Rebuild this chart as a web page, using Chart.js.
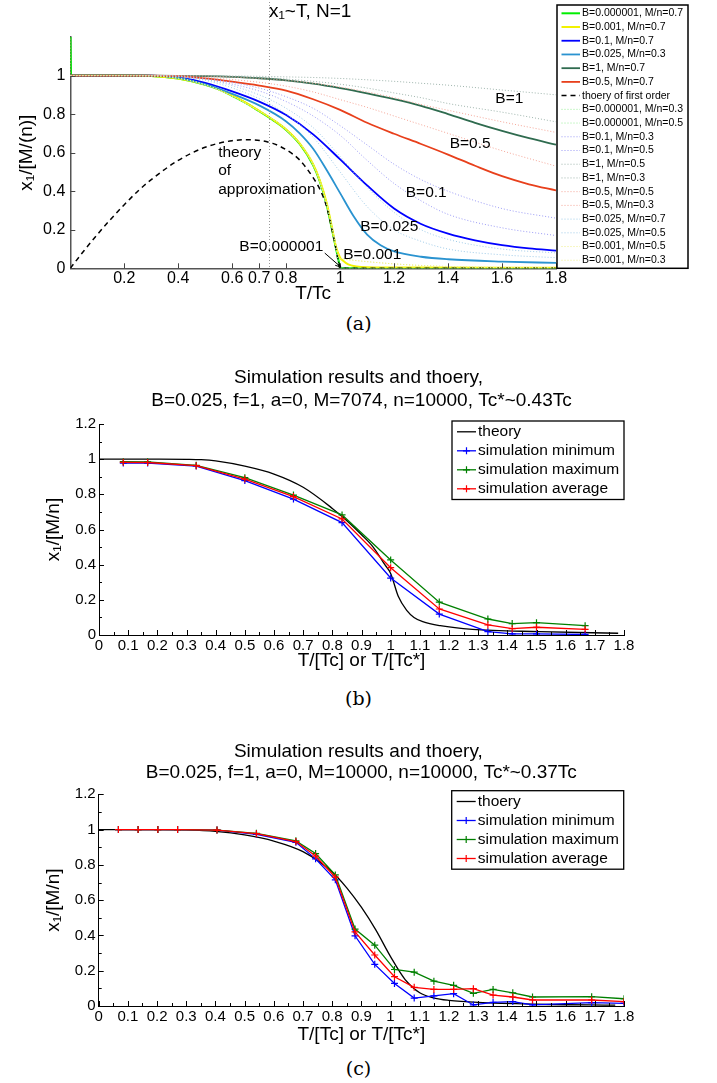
<!DOCTYPE html>
<html>
<head>
<meta charset="utf-8">
<script src="https://cdn.jsdelivr.net/npm/chart.js@4.4.0/dist/chart.umd.min.js"></script>
<style>
  body { margin: 0; background: #fff; width: 717px; height: 1083px; position: relative; overflow: hidden; }
  canvas { position: absolute; left: 0; }
  .cap { position: absolute; left: 0; width: 717px; text-align: center; font-family: "DejaVu Serif", serif; font-size: 19px; line-height: 20px; color: #000; }
</style>
</head>
<body>
<canvas id="chartA" width="717" height="310" style="top:0"></canvas>
<div class="cap" style="top:313px">(a)</div>
<canvas id="chartB" width="717" height="320" style="top:360px"></canvas>
<div class="cap" style="top:688px">(b)</div>
<canvas id="chartC" width="717" height="320" style="top:730px"></canvas>
<div class="cap" style="top:1058px">(c)</div>
<script>
const FONT = '"Liberation Sans", Arial, sans-serif';

// ---------- panel (a) data ----------
const xTicksA = [0.2, 0.4, 0.6, 0.7, 0.8, 1, 1.2, 1.4, 1.6, 1.8];
const yTicksA = [0, 0.2, 0.4, 0.6, 0.8, 1];

const greenX = [0, 0.003, 0.1, 0.2, 0.3, 0.4, 0.5, 0.55, 0.6, 0.65, 0.7, 0.75, 0.8, 0.85, 0.9, 0.925, 0.95, 0.97, 0.985, 0.995, 1.0, 1.8];
const greenY = [1.3, 1, 1, 1, 0.998, 0.984, 0.952, 0.928, 0.895, 0.858, 0.815, 0.77, 0.718, 0.645, 0.535, 0.45, 0.33, 0.2, 0.1, 0.035, 0, 0];
const yellowX = [0, 0.1, 0.2, 0.3, 0.4, 0.5, 0.55, 0.6, 0.65, 0.7, 0.75, 0.8, 0.85, 0.9, 0.925, 0.95, 0.97, 0.985, 1.0, 1.01, 1.03, 1.06, 1.1, 1.3, 1.8];
const yellowY = [1, 1, 1, 0.998, 0.984, 0.953, 0.929, 0.897, 0.86, 0.817, 0.772, 0.72, 0.648, 0.54, 0.455, 0.34, 0.21, 0.11, 0.055, 0.04, 0.02, 0.01, 0.006, 0.004, 0.003];
const blueX = [0, 0.3, 0.4, 0.5, 0.6, 0.7, 0.8, 0.9, 1.0, 1.1, 1.2, 1.3, 1.4, 1.5, 1.6, 1.7, 1.8];
const blueY = [1, 1, 0.99, 0.962, 0.918, 0.865, 0.795, 0.695, 0.565, 0.43, 0.31, 0.23, 0.18, 0.145, 0.12, 0.103, 0.092];
const cyanX = [0, 0.3, 0.4, 0.5, 0.6, 0.7, 0.8, 0.85, 0.9, 0.95, 1.0, 1.05, 1.1, 1.15, 1.2, 1.3, 1.4, 1.6, 1.8];
const cyanY = [1, 1, 0.988, 0.954, 0.905, 0.845, 0.762, 0.7, 0.62, 0.51, 0.39, 0.27, 0.175, 0.12, 0.088, 0.06, 0.047, 0.035, 0.028];
const dkGreenX = [0, 0.3, 0.5, 0.6, 0.7, 0.8, 0.9, 1.0, 1.1, 1.2, 1.3, 1.4, 1.5, 1.6, 1.7, 1.8];
const dkGreenY = [1, 1, 0.997, 0.993, 0.986, 0.975, 0.958, 0.935, 0.908, 0.878, 0.843, 0.8, 0.755, 0.713, 0.675, 0.641];
const redX = [0, 0.3, 0.4, 0.5, 0.6, 0.7, 0.8, 0.9, 1.0, 1.1, 1.2, 1.3, 1.4, 1.5, 1.6, 1.7, 1.8];
const redY = [1, 1, 0.997, 0.985, 0.968, 0.948, 0.922, 0.877, 0.822, 0.755, 0.698, 0.645, 0.59, 0.532, 0.478, 0.436, 0.404];
const firstOrderX = [0, 0.05, 0.1, 0.15, 0.2, 0.25, 0.3, 0.4, 0.5, 0.6, 0.667, 0.75, 0.8, 0.85, 0.9, 0.925, 0.95, 0.97, 0.985, 1.0, 1.8];
const firstOrderY = [0, 0.09, 0.175, 0.255, 0.33, 0.4, 0.46, 0.56, 0.628, 0.662, 0.667, 0.648, 0.615, 0.562, 0.47, 0.41, 0.32, 0.2, 0.1, 0, 0];

// dotted companions
const lowBX = [0, 0.3, 0.5, 0.7, 0.8, 0.9, 0.95, 0.98, 1.0, 1.8];
const tinyB03 = [1, 0.998, 0.952, 0.815, 0.718, 0.535, 0.33, 0.14, 0, 0];
const tinyB05 = [1, 0.998, 0.952, 0.815, 0.718, 0.535, 0.33, 0.14, 0, 0];
const milliB05 = [1, 0.998, 0.953, 0.817, 0.72, 0.54, 0.34, 0.15, 0.05, 0.003];
const milliB03 = [1, 0.998, 0.953, 0.817, 0.72, 0.54, 0.34, 0.15, 0.05, 0.003];
const dotX = [0, 0.3, 0.5, 0.7, 0.8, 0.9, 1.0, 1.1, 1.2, 1.3, 1.4, 1.6, 1.8];
const b01m03 = [1, 1, 0.985, 0.935, 0.89, 0.83, 0.74, 0.64, 0.54, 0.46, 0.4, 0.31, 0.26];
const b01m05 = [1, 1, 0.98, 0.92, 0.865, 0.79, 0.69, 0.56, 0.44, 0.35, 0.28, 0.21, 0.17];
const b1m05 = [1, 1, 0.999, 0.996, 0.993, 0.99, 0.985, 0.978, 0.97, 0.96, 0.95, 0.925, 0.9];
const b1m03 = [1, 1, 0.998, 0.99, 0.982, 0.97, 0.955, 0.935, 0.91, 0.885, 0.855, 0.81, 0.76];
const b05m05 = [1, 1, 0.997, 0.985, 0.975, 0.96, 0.94, 0.915, 0.885, 0.85, 0.82, 0.76, 0.705];
const b05m03 = [1, 1, 0.99, 0.965, 0.945, 0.915, 0.875, 0.835, 0.79, 0.745, 0.70, 0.61, 0.53];
const b0025m07 = [1, 1, 0.975, 0.88, 0.8, 0.68, 0.5, 0.32, 0.2, 0.14, 0.1, 0.07, 0.055];
const b0025m05 = [1, 1, 0.98, 0.9, 0.83, 0.73, 0.58, 0.42, 0.29, 0.2, 0.15, 0.1, 0.08];

// ---------- panel (b) data ----------
const xTicksBC = [0, 0.1, 0.2, 0.3, 0.4, 0.5, 0.6, 0.7, 0.8, 0.9, 1, 1.1, 1.2, 1.3, 1.4, 1.5, 1.6, 1.7, 1.8];
const yTicksBC = [0, 0.2, 0.4, 0.6, 0.8, 1, 1.2];
const theoryXB = [0, 0.2, 0.3, 0.35, 0.4, 0.5, 0.6, 0.7, 0.8, 0.85, 0.9, 0.94, 0.98, 1.0, 1.026, 1.055, 1.08, 1.11, 1.17, 1.28, 1.51, 1.78];
const theoryYB = [1, 1, 0.999, 0.997, 0.99, 0.96, 0.915, 0.84, 0.72, 0.65, 0.57, 0.5, 0.4, 0.35, 0.22, 0.14, 0.1, 0.076, 0.053, 0.032, 0.019, 0.01];
const simXB = [0.0833, 0.1667, 0.3333, 0.5, 0.6667, 0.8333, 1.0, 1.1667, 1.3333, 1.4167, 1.5, 1.6667];
const minB = [0.978, 0.978, 0.961, 0.878, 0.773, 0.639, 0.324, 0.119, 0.019, 0.006, 0.006, 0.003];
const maxB = [0.986, 0.985, 0.965, 0.895, 0.796, 0.683, 0.427, 0.187, 0.091, 0.065, 0.07, 0.053];
const avgB = [0.982, 0.981, 0.963, 0.887, 0.787, 0.66, 0.383, 0.148, 0.057, 0.036, 0.044, 0.032];

// ---------- panel (c) data ----------
const theoryXC = [0, 0.2, 0.3, 0.4, 0.5, 0.6, 0.7, 0.8, 0.85, 0.9, 0.95, 1.0, 1.05, 1.1, 1.15, 1.2, 1.3, 1.5, 1.77];
const theoryYC = [1, 1, 0.998, 0.99, 0.97, 0.935, 0.875, 0.76, 0.67, 0.56, 0.43, 0.28, 0.15, 0.075, 0.045, 0.032, 0.02, 0.01, 0.005];
const simXC = [0.0676, 0.1351, 0.2027, 0.2703, 0.4054, 0.5405, 0.6757, 0.7432, 0.8108, 0.8784, 0.9459, 1.0135, 1.0811, 1.1486, 1.2162, 1.2838, 1.3514, 1.4189, 1.4865, 1.6892, 1.8];
const minC = [1, 1, 1, 1, 0.997, 0.973, 0.928, 0.834, 0.715, 0.398, 0.236, 0.128, 0.045, 0.057, 0.07, 0.006, 0.021, 0.025, 0.006, 0.019, 0.015];
const maxC = [1, 1, 1, 1, 0.997, 0.979, 0.936, 0.864, 0.743, 0.436, 0.345, 0.207, 0.192, 0.141, 0.117, 0.072, 0.094, 0.075, 0.051, 0.053, 0.041];
const avgC = [1, 1, 1, 1, 0.997, 0.977, 0.932, 0.85, 0.73, 0.42, 0.289, 0.166, 0.106, 0.094, 0.094, 0.098, 0.062, 0.051, 0.034, 0.034, 0.025];

function pts(xs, ys) {
    return xs.map((x, i) => ({ x: x, y: ys[i] }));
}

// smooth curve (no markers)
function curve(label, xs, ys, color, width, dash) {
    return {
        label: label, data: pts(xs, ys), borderColor: color, borderWidth: width,
        borderDash: dash || [], pointRadius: 0, cubicInterpolationMode: 'monotone', fill: false
    };
}

// simulation line with + markers
function simLine(label, xs, ys, color) {
    return {
        label: label, data: pts(xs, ys), borderColor: color, borderWidth: 1.3,
        pointStyle: 'cross', pointRadius: 3.5, pointBorderWidth: 1.2, pointBorderColor: color,
        tension: 0, fill: false
    };
}

// later datasets drawn on top
function stack(list) {
    list.forEach((d, i) => { d.order = list.length - i; });
    return list;
}

function fmt(v) {
    return String(+Number(v).toFixed(2));
}

function drawLegend(chart, L) {
    const ctx = chart.ctx;
    ctx.fillStyle = '#fff';
    ctx.fillRect(L.left, L.top, L.width, L.height);
    ctx.strokeStyle = '#000';
    ctx.lineWidth = L.border;
    ctx.strokeRect(L.left, L.top, L.width, L.height);
    ctx.font = L.font;
    ctx.textAlign = 'left';
    ctx.textBaseline = 'middle';
    chart.data.datasets.forEach((d, i) => {
        const y = L.rowTop + i * L.rowGap;
        ctx.strokeStyle = d.borderColor;
        ctx.lineWidth = d.borderWidth;
        ctx.setLineDash(d.borderDash || []);
        ctx.beginPath();
        ctx.moveTo(L.x0, y);
        ctx.lineTo(L.x1, y);
        ctx.stroke();
        ctx.setLineDash([]);
        if (d.pointStyle === 'cross') {
            const m = (L.x0 + L.x1) / 2, r = d.pointRadius;
            ctx.lineWidth = 1.2;
            ctx.beginPath();
            ctx.moveTo(m - r, y); ctx.lineTo(m + r, y);
            ctx.moveTo(m, y - r); ctx.lineTo(m, y + r);
            ctx.stroke();
        }
        ctx.fillStyle = '#000';
        ctx.fillText(d.label, L.textX, y);
    });
}

// inward ticks, titles, notes, legend
const decor = {
    id: 'decor',
    afterDatasetsDraw(chart, args, o) {
        const ctx = chart.ctx, a = chart.chartArea, sx = chart.scales.x, sy = chart.scales.y;
        ctx.save();
        ctx.strokeStyle = o.tickColor;
        ctx.lineWidth = 1;
        ctx.beginPath();
        (o.xMajor || []).forEach(v => { const p = Math.round(sx.getPixelForValue(v)) + 0.5; ctx.moveTo(p, a.bottom); ctx.lineTo(p, a.bottom - o.majorLen); });
        (o.xMinor || []).forEach(v => { const p = Math.round(sx.getPixelForValue(v)) + 0.5; ctx.moveTo(p, a.bottom); ctx.lineTo(p, a.bottom - o.minorLen); });
        (o.yMajor || []).forEach(v => { const p = Math.round(sy.getPixelForValue(v)) + 0.5; ctx.moveTo(a.left, p); ctx.lineTo(a.left + o.majorLen, p); });
        (o.yMinor || []).forEach(v => { const p = Math.round(sy.getPixelForValue(v)) + 0.5; ctx.moveTo(a.left, p); ctx.lineTo(a.left + o.minorLen, p); });
        ctx.stroke();

        if (o.vline) {
            const p = Math.round(sx.getPixelForValue(o.vline.x)) + 0.5;
            ctx.strokeStyle = '#999';
            ctx.setLineDash([1, 2]);
            ctx.beginPath();
            ctx.moveTo(p, o.vline.top);
            ctx.lineTo(p, a.bottom);
            ctx.stroke();
            ctx.setLineDash([]);
        }

        ctx.fillStyle = '#000';
        ctx.textBaseline = 'middle';
        (o.notes || []).forEach(n => {
            ctx.font = o.noteFont;
            ctx.textAlign = n.align || 'center';
            ctx.fillText(n.text, sx.getPixelForValue(n.x), sy.getPixelForValue(n.y));
        });

        if (o.arrow) {
            const x0 = sx.getPixelForValue(o.arrow.from[0]), y0 = sy.getPixelForValue(o.arrow.from[1]);
            const x1 = sx.getPixelForValue(o.arrow.to[0]), y1 = sy.getPixelForValue(o.arrow.to[1]);
            const ang = Math.atan2(y1 - y0, x1 - x0);
            ctx.strokeStyle = '#000';
            ctx.lineWidth = 1;
            ctx.beginPath();
            ctx.moveTo(x0, y0);
            ctx.lineTo(x1, y1);
            ctx.moveTo(x1 - 6 * Math.cos(ang - 0.4), y1 - 6 * Math.sin(ang - 0.4));
            ctx.lineTo(x1, y1);
            ctx.lineTo(x1 - 6 * Math.cos(ang + 0.4), y1 - 6 * Math.sin(ang + 0.4));
            ctx.stroke();
        }

        (o.titles || []).forEach(t => {
            ctx.font = o.titleFont;
            ctx.textAlign = 'center';
            ctx.fillStyle = '#000';
            ctx.fillText(t.text, (a.left + a.right) / 2 + (t.dx || 0), t.y);
        });

        if (o.legend) drawLegend(chart, o.legend);
        ctx.restore();
    }
};
Chart.register(decor);

function axis(min, max, tickList, size, fitSize, isX, title, titlePad, borderColor, borderWidth, tickPad) {
    return {
        type: 'linear', min: min, max: max,
        grid: { display: false, drawTicks: false },
        border: { display: true, color: borderColor, width: borderWidth },
        afterBuildTicks: s => { s.ticks = tickList.map(v => ({ value: v })); },
        afterFit: s => { if (isX) s.height = fitSize; else s.width = fitSize; },
        ticks: { autoSkip: false, maxRotation: 0, padding: tickPad, color: '#000', font: { family: FONT, size: size }, callback: v => fmt(v) },
        title: { display: true, text: title, color: '#000', font: { family: FONT, size: 19 }, padding: titlePad }
    };
}

// ---------- chart (a) ----------
const datasetsA = stack([
    curve('B=0.000001, M/n=0.7', greenX, greenY, '#00ee00', 2),
    curve('B=0.001, M/n=0.7', yellowX, yellowY, '#f2f200', 2),
    curve('B=0.1, M/n=0.7', blueX, blueY, '#0000ff', 1.8),
    curve('B=0.025, M/n=0.3', cyanX, cyanY, '#2a93d0', 1.8),
    curve('B=1, M/n=0.7', dkGreenX, dkGreenY, '#2f6b4f', 1.8),
    curve('B=0.5, M/n=0.7', redX, redY, '#e8401c', 1.8),
    curve('thoery of first order', firstOrderX, firstOrderY, '#000000', 1.5, [5, 4]),
    curve('B=0.000001, M/n=0.3', lowBX, tinyB03, '#99ee99', 1, [1, 2]),
    curve('B=0.000001, M/n=0.5', lowBX, tinyB05, '#99ee99', 1, [1, 2]),
    curve('B=0.1, M/n=0.3', dotX, b01m03, '#9b9bf5', 1, [1, 2]),
    curve('B=0.1, M/n=0.5', dotX, b01m05, '#9b9bf5', 1, [1, 2]),
    curve('B=1, M/n=0.5', dotX, b1m05, '#9fb5ad', 1, [1, 2]),
    curve('B=1, M/n=0.3', dotX, b1m03, '#9fb5ad', 1, [1, 2]),
    curve('B=0.5, M/n=0.5', dotX, b05m05, '#f4a597', 1, [1, 2]),
    curve('B=0.5, M/n=0.3', dotX, b05m03, '#f4a597', 1, [1, 2]),
    curve('B=0.025, M/n=0.7', dotX, b0025m07, '#9fcbe8', 1, [1, 2]),
    curve('B=0.025, M/n=0.5', dotX, b0025m05, '#9fcbe8', 1, [1, 2]),
    curve('B=0.001, M/n=0.5', lowBX, milliB05, '#eeee88', 1, [1, 2]),
    curve('B=0.001, M/n=0.3', lowBX, milliB03, '#eeee88', 1, [1, 2])
]);
// the B=0.5 dotted curve also rises at T->0
datasetsA[13].data.unshift({ x: 0, y: 1.3 });

new Chart(document.getElementById('chartA'), {
    type: 'line',
    data: { datasets: datasetsA },
    options: {
        responsive: false, animation: false,
        layout: { padding: { left: 0, right: 161, top: 37, bottom: 0 } },
        plugins: {
            legend: { display: false }, tooltip: { enabled: false },
            decor: {
                tickColor: '#444', majorLen: 5, minorLen: 3,
                xMajor: xTicksA, yMajor: yTicksA,
                vline: { x: 0.737, top: 2 },
                titleFont: '19px ' + FONT,
                titles: [{ text: 'x\u2081~T, N=1', y: 12, dx: -3 }],
                noteFont: '15.5px ' + FONT,
                notes: [
                    { text: 'B=1', x: 1.627, y: 0.881 },
                    { text: 'B=0.5', x: 1.482, y: 0.644 },
                    { text: 'B=0.1', x: 1.319, y: 0.392 },
                    { text: 'B=0.025', x: 1.182, y: 0.216 },
                    { text: 'B=0.001', x: 1.119, y: 0.069 },
                    { text: 'B=0.000001', x: 0.782, y: 0.112 },
                    { text: 'theory', x: 0.548, y: 0.599, align: 'left' },
                    { text: 'of', x: 0.548, y: 0.506, align: 'left' },
                    { text: 'approximation', x: 0.548, y: 0.409, align: 'left' }
                ],
                arrow: { from: [0.943, 0.079], to: [1.003, 0.006] },
                legend: { left: 557, top: 5, width: 131, height: 263.3, border: 1.5, rowTop: 13.3, rowGap: 13.72, x0: 561.5, x1: 580, textX: 582, font: '10.5px ' + FONT }
            }
        },
        scales: {
            x: axis(0, 1.8, xTicksA, 16, 41.7, true, 'T/Tc', { top: 0, bottom: 4.6 }, '#555', 1.5, 1),
            y: axis(0, 1.2, yTicksA, 16, 70.3, false, 'x\u2081/[M/(n)]', { top: 15, bottom: 0 }, '#555', 1.5, 5)
        }
    }
});

// ---------- charts (b) and (c) ----------
const xMinorBC = xTicksBC.slice(0, -1).map(v => v + 0.05);
const yMinorBC = yTicksBC.slice(0, -1).map(v => v + 0.1);

function simChart(id, theoryLabel, tx, ty, sx, mins, maxs, avgs, line2, cfg) {
    new Chart(document.getElementById(id), {
        type: 'line',
        data: {
            datasets: stack([
                curve(theoryLabel, tx, ty, '#000000', 1.3),
                simLine('simulation minimum', sx, mins, '#0000ff'),
                simLine('simulation maximum', sx, maxs, '#008000'),
                simLine('simulation average', sx, avgs, '#ff0000')
            ])
        },
        options: {
            responsive: false, animation: false,
            layout: { padding: { left: 0, right: 93, top: cfg.top, bottom: 0 } },
            plugins: {
                legend: { display: false }, tooltip: { enabled: false },
                decor: {
                    tickColor: '#000', majorLen: 5, minorLen: 3,
                    xMajor: xTicksBC, xMinor: xMinorBC, yMajor: yTicksBC, yMinor: yMinorBC,
                    titleFont: '19px ' + FONT,
                    titles: [
                        { text: 'Simulation results and thoery,', y: cfg.t1, dx: -3 },
                        { text: line2, y: cfg.t2 }
                    ],
                    legend: { left: cfg.lx, top: cfg.ly, width: 172, height: 78.5, border: 1.3, rowTop: cfg.ly + 10.8, rowGap: 19, x0: cfg.lx + 5, x1: cfg.lx + 24, textX: cfg.lx + 26, font: '15.5px ' + FONT }
                }
            },
            scales: {
                x: axis(0, 1.8, xTicksBC, 15, cfg.xh, true, 'T/[Tc] or T/[Tc*]', { top: 0, bottom: cfg.xtp }, '#000', 1, cfg.xpad),
                y: axis(0, 1.2, yTicksBC, 15, cfg.yw, false, 'x\u2081/[M/n]', { top: 42.6, bottom: 0 }, '#000', 1, 3)
            }
        }
    });
}

simChart('chartB', 'theory', theoryXB, theoryYB, simXB, minB, maxB, avgB,
    'B=0.025, f=1, a=0, M=7074, n=10000, Tc*~0.43Tc',
    { top: 64, t1: 18, t2: 41, lx: 452, ly: 61, xh: 45, xtp: 7.6, xpad: 2, yw: 99 });

simChart('chartC', 'thoery', theoryXC, theoryYC, simXC, minC, maxC, avgC,
    'B=0.025, f=1, a=0, M=10000, n=10000, Tc*~0.37Tc',
    { top: 64.3, t1: 22, t2: 43, lx: 451.7, ly: 60.7, xh: 44, xtp: 3.6, xpad: 1.5, yw: 98.7 });
</script>
</body>
</html>
